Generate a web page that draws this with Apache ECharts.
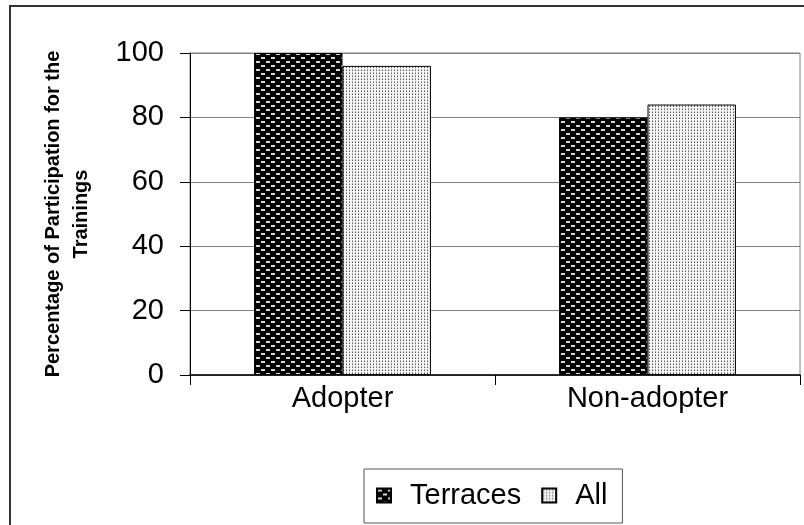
<!DOCTYPE html>
<html><head><meta charset="utf-8">
<script src="https://cdn.jsdelivr.net/npm/echarts@6/dist/echarts.min.js"></script>
<style>html,body{margin:0;padding:0;background:#fff}#c{width:804px;height:525px}</style>
</head><body><div id="c"></div>
<script>
var categories = ['Adopter', 'Non-adopter'];
var seriesNames = ['Terraces', 'All'];
var terraces = [100, 80];
var allValues = [96, 84];
var yTicks = [0, 20, 40, 60, 80, 100];

function makePattern(kind) {
  var cv = document.createElement('canvas');
  var ctx = cv.getContext('2d');
  if (kind === 'dark') {
    cv.width = 10; cv.height = 8;
    ctx.fillStyle = '#000'; ctx.fillRect(0, 0, 10, 8);
    ctx.fillStyle = '#d8d8d8';
    ctx.fillRect(1, 1, 4, 2);
    ctx.fillRect(6, 5, 4, 2);
  } else {
    cv.width = 3; cv.height = 3;
    ctx.fillStyle = '#f4f4f4'; ctx.fillRect(0, 0, 3, 3);
    ctx.fillStyle = '#555';
    ctx.fillRect(1, 1, 1, 1);
    ctx.fillStyle = '#aaa';
    ctx.fillRect(1, 0, 1, 1);
  }
  return { image: cv, repeat: 'repeat' };
}

var chart = echarts.init(document.getElementById('c'));
chart.setOption({
  animation: false,
  backgroundColor: '#fff',
  grid: { left: 190, right: 4, top: 53, bottom: 150, show: true, borderColor: '#808080', borderWidth: 1 },
  legend: {
    data: seriesNames.map(function (n) { return { name: n, icon: 'rect' }; }),
    left: 364, top: 469,
    padding: [12, 15, 13, 12],
    borderColor: '#555', borderWidth: 1,
    itemWidth: 14, itemHeight: 14, itemGap: 20,
    textStyle: { fontFamily: 'Liberation Sans, Arial', fontSize: 29, color: '#000', padding: [0, 0, 0, 14] }
  },
  xAxis: {
    type: 'category', data: categories,
    axisLine: { lineStyle: { color: '#000', width: 1.5 } },
    axisTick: { show: true, length: 10, lineStyle: { color: '#000' } },
    axisLabel: { fontFamily: 'Liberation Sans, Arial', fontSize: 29, color: '#000', margin: 9 }
  },
  yAxis: {
    type: 'value', min: yTicks[0], max: yTicks[yTicks.length - 1], interval: 20,
    name: 'Percentage of Participation for the\nTrainings',
    nameLocation: 'middle', nameRotate: 90, nameGap: 95,
    nameTextStyle: { fontFamily: 'Liberation Sans, Arial', fontSize: 20, fontWeight: 'bold', color: '#000', lineHeight: 28 },
    axisLine: { show: true, lineStyle: { color: '#000', width: 1 } },
    axisTick: { show: true, length: 10, lineStyle: { color: '#000' } },
    axisLabel: { fontFamily: 'Liberation Sans, Arial', fontSize: 29, color: '#000', margin: 26 },
    splitLine: { lineStyle: { color: '#808080', width: 1 } }
  },
  series: [
    { name: seriesNames[0], type: 'bar', data: terraces, barGap: '0%', barCategoryGap: '42%',
      itemStyle: { color: makePattern('dark'), borderColor: '#000', borderWidth: 1 } },
    { name: seriesNames[1], type: 'bar', data: allValues,
      itemStyle: { color: makePattern('light'), borderColor: '#000', borderWidth: 1 } }
  ],
  graphic: [
    { type: 'rect', silent: true, shape: { x: 10, y: 6, width: 820, height: 540 },
      style: { fill: null, stroke: '#333', lineWidth: 2 } }
  ]
});
</script>
</body></html>
